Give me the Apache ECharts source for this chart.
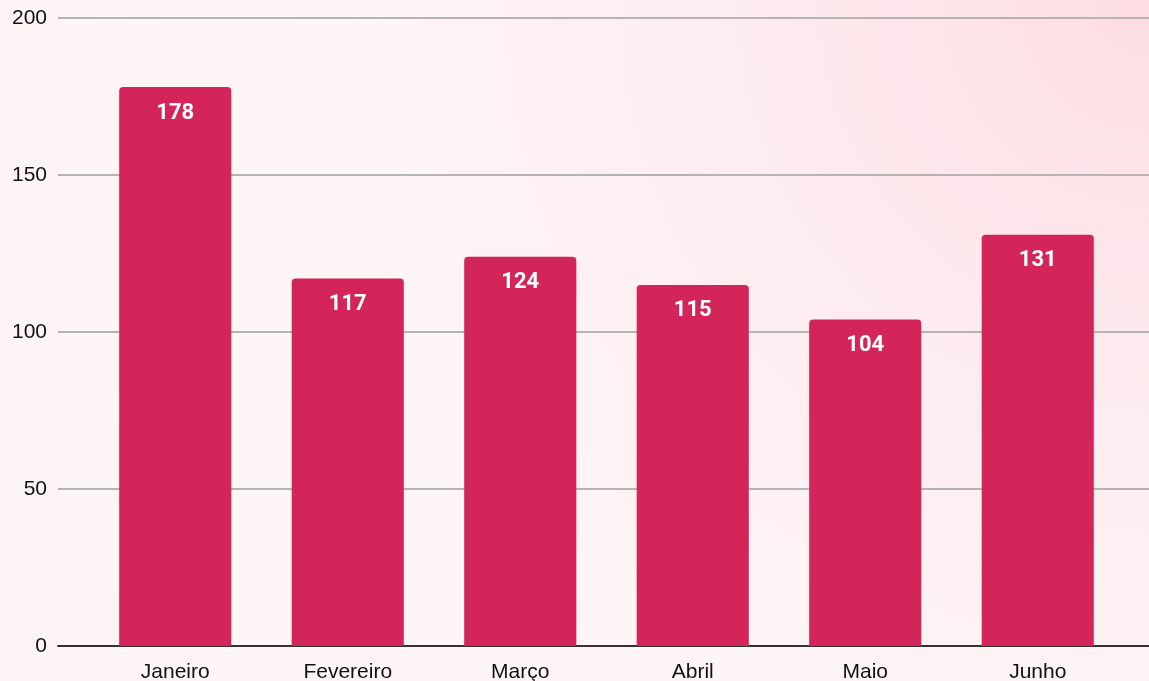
<!DOCTYPE html>
<html>
<head>
<meta charset="utf-8">
<script src="https://cdn.jsdelivr.net/npm/echarts@6/dist/echarts.min.js"></script>
<style>
  html, body { margin: 0; padding: 0; }
  #chart {
    width: 1149px;
    height: 681px;
    background: radial-gradient(circle at 100% 0%, #fddce3 0%, #fdecef 30%, #fdf5f6 60%, #fdf4f6 100%);
  }
</style>
</head>
<body>
<div id="chart"></div>
<script>
const months = ["Janeiro", "Fevereiro", "Março", "Abril", "Maio", "Junho"];
const values = [178, 117, 124, 115, 104, 131];
const yTicks = [0, 50, 100, 150, 200];

const chart = echarts.init(document.getElementById("chart"));
const option = {
  animation: false,
  grid: [
    // full-width grid carrying the gridlines and y labels
    { left: 58, right: 0, top: 18, bottom: 35, outerBoundsMode: "none" },
    // inner grid for the bars
    { left: 89, right: 25, top: 18, bottom: 35, outerBoundsMode: "none" },
  ],
  xAxis: [
    {
      gridIndex: 0,
      type: "value",
      min: 0,
      max: 1,
      axisLine: { show: true, lineStyle: { color: "#333333", width: 2 } },
      axisTick: { show: false },
      axisLabel: { show: false },
      splitLine: { show: false },
    },
    {
      gridIndex: 1,
      type: "category",
      data: months,
      axisLine: { show: false },
      axisTick: { show: false },
      axisLabel: {
        color: "#111111",
        fontSize: 21,
        fontFamily: "Liberation Sans",
        margin: 16,
      },
    },
  ],
  yAxis: [
    {
      gridIndex: 0,
      type: "value",
      min: yTicks[0],
      max: yTicks[yTicks.length - 1],
      interval: 50,
      axisLine: { show: false },
      axisTick: { show: false },
      axisLabel: {
        color: "#111111",
        fontSize: 21,
        fontFamily: "Liberation Sans",
        margin: 11,
      },
      splitLine: { lineStyle: { color: "#b4b4b4", width: 2 } },
    },
    {
      gridIndex: 1,
      type: "value",
      min: 0,
      max: 200,
      show: false,
    },
  ],
  series: [
    {
      type: "bar",
      xAxisIndex: 1,
      yAxisIndex: 1,
      data: values,
      barWidth: "65%",
      itemStyle: { color: "#d3255a", borderRadius: [4, 4, 0, 0] },
      label: {
        show: true,
        position: "insideTop",
        distance: 15,
        color: "#ffffff",
        fontSize: 22,
        fontWeight: "bold",
        fontFamily: "Roboto",
      },
    },
  ],
};
chart.setOption(option);
</script>
</body>
</html>
